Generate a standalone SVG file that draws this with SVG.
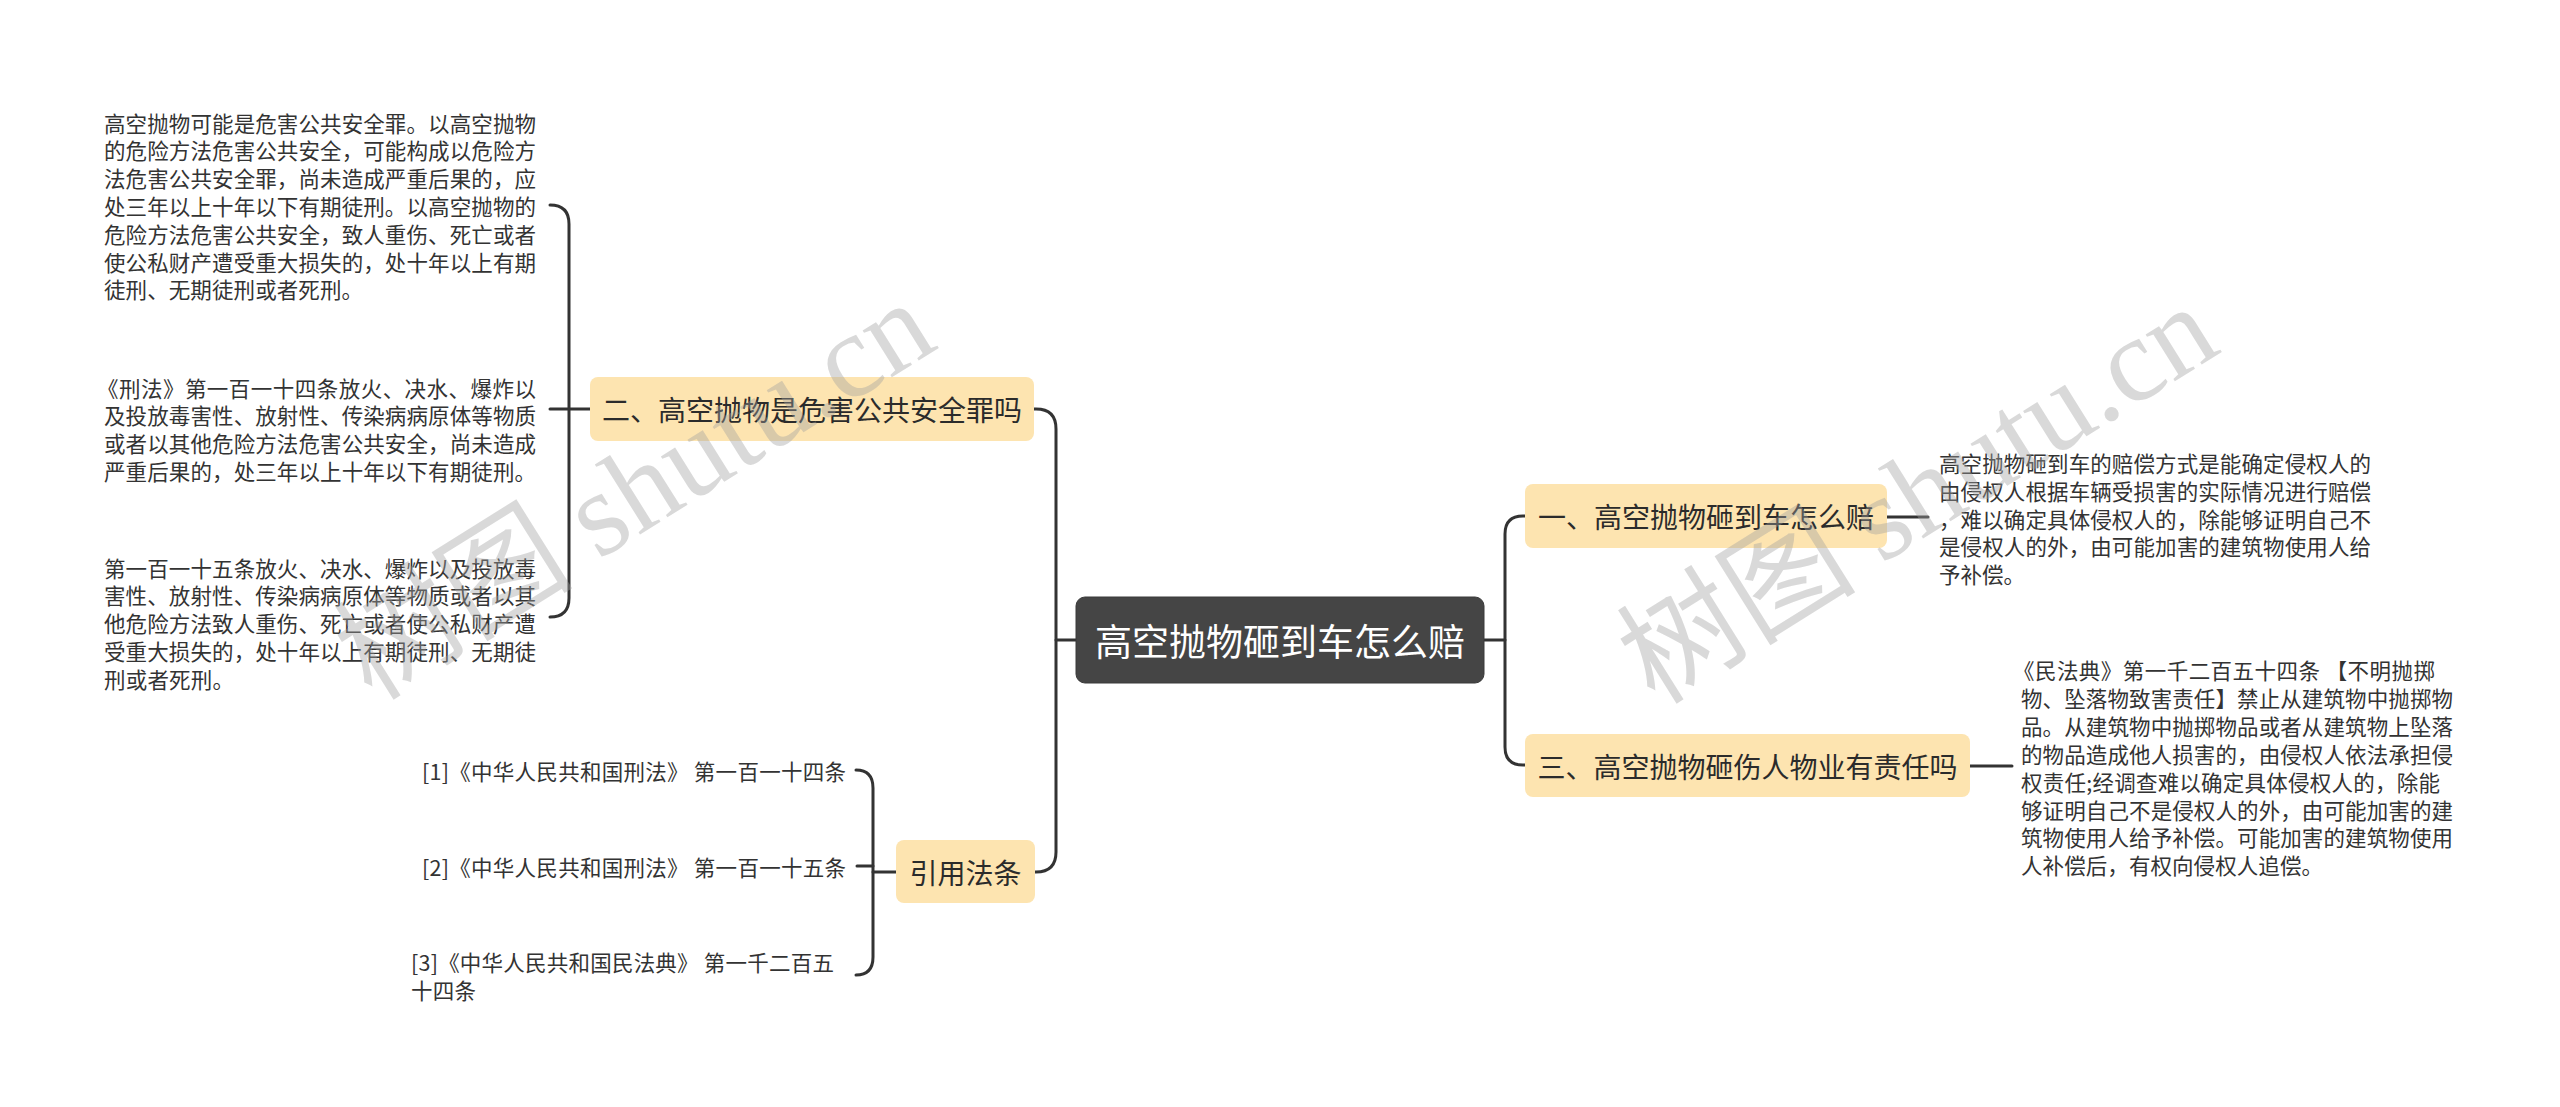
<svg xmlns="http://www.w3.org/2000/svg" width="2560" height="1107" viewBox="0 0 2560 1107">
<style>
text{font-family:"Noto Sans CJK SC","Noto Sans",sans-serif;}
.leaf{font-size:21.5px;fill:#333;dominant-baseline:central;}
.sub rect{fill:#FDE4B0;}
.sub text{font-size:28px;fill:#2b2b2b;text-anchor:middle;dominant-baseline:central;}
.conn{fill:none;stroke:#333;stroke-width:3;stroke-linecap:round;}
.wm{font-size:120px;fill:#a0a0a0;fill-opacity:0.4;}
.wm .lat{font-family:"Liberation Serif","Noto Sans CJK SC",serif;}
</style>
<rect width="2560" height="1107" fill="#fff"/>
<g id="connectors" class="conn">
<path d="M1076,640 H1056"/>
<path d="M1034,409 H1036 Q1056,409 1056,429 V852 Q1056,872 1036,872 H1035"/>
<path d="M1484,640 H1505"/>
<path d="M1525,516 H1523 Q1505,516 1505,534 V747 Q1505,765 1523,765 H1525"/>
<path d="M590,409 H550"/>
<path d="M550,205 Q569,205 569,224 V598 Q569,617 550,617"/>
<path d="M856,770 Q873,770 873,788 V957 Q873,975 856,975"/>
<path d="M857,866 H873"/>
<path d="M873,872 H896"/>
<path d="M1887,517 H1928"/>
<path d="M1970,766 H2012"/>
</g>
<g id="center">
<rect x="1076" y="597" width="408" height="86" rx="9" fill="#454545" stroke="#3a3a3a" stroke-width="1"/>
<text x="1280" y="640" font-size="37" fill="#fff" text-anchor="middle" dominant-baseline="central">高空抛物砸到车怎么赔</text>
</g>
<g id="node-er" class="sub">
<rect x="590" y="377" width="444" height="64" rx="8"/>
<text x="812" y="409">二、高空抛物是危害公共安全罪吗</text>
</g>
<g id="node-yinyong" class="sub">
<rect x="896" y="840" width="139" height="63" rx="8"/>
<text x="965.5" y="871.5">引用法条</text>
</g>
<g id="node-yi" class="sub">
<rect x="1525" y="484" width="362" height="64" rx="8"/>
<text x="1706" y="516">一、高空抛物砸到车怎么赔</text>
</g>
<g id="node-san" class="sub">
<rect x="1525" y="734" width="445" height="63" rx="8"/>
<text x="1747.5" y="765.5">三、高空抛物砸伤人物业有责任吗</text>
</g>
<g id="leaf-er-1">
<text class="leaf">
<tspan x="104" y="121.5" textLength="432">高空抛物可能是危害公共安全罪。以高空抛物</tspan>
<tspan x="104" y="149.3" textLength="432">的危险方法危害公共安全，可能构成以危险方</tspan>
<tspan x="104" y="177.1" textLength="432">法危害公共安全罪，尚未造成严重后果的，应</tspan>
<tspan x="104" y="204.9" textLength="432">处三年以上十年以下有期徒刑。以高空抛物的</tspan>
<tspan x="104" y="232.7" textLength="432">危险方法危害公共安全，致人重伤、死亡或者</tspan>
<tspan x="104" y="260.5" textLength="432">使公私财产遭受重大损失的，处十年以上有期</tspan>
<tspan x="104" y="288.3" textLength="259">徒刑、无期徒刑或者死刑。</tspan>
</text>
</g>
<g id="leaf-er-2">
<text class="leaf">
<tspan x="97" y="386.5" textLength="439">《刑法》第一百一十四条放火、决水、爆炸以</tspan>
<tspan x="104" y="414.2" textLength="432">及投放毒害性、放射性、传染病病原体等物质</tspan>
<tspan x="104" y="441.9" textLength="432">或者以其他危险方法危害公共安全，尚未造成</tspan>
<tspan x="104" y="469.6" textLength="432">严重后果的，处三年以上十年以下有期徒刑。</tspan>
</text>
</g>
<g id="leaf-er-3">
<text class="leaf">
<tspan x="104" y="566.7" textLength="432">第一百一十五条放火、决水、爆炸以及投放毒</tspan>
<tspan x="104" y="594.4" textLength="432">害性、放射性、传染病病原体等物质或者以其</tspan>
<tspan x="104" y="622.1" textLength="432">他危险方法致人重伤、死亡或者使公私财产遭</tspan>
<tspan x="104" y="649.8" textLength="432">受重大损失的，处十年以上有期徒刑、无期徒</tspan>
<tspan x="104" y="677.5" textLength="130">刑或者死刑。</tspan>
</text>
</g>
<g id="leaf-ref-1">
<text class="leaf" x="422" y="770" textLength="424">[1]《中华人民共和国刑法》 第一百一十四条</text>
</g>
<g id="leaf-ref-2">
<text class="leaf" x="422" y="866" textLength="424">[2]《中华人民共和国刑法》 第一百一十五条</text>
</g>
<g id="leaf-ref-3">
<text class="leaf">
<tspan x="411" y="961" textLength="423">[3]《中华人民共和国民法典》 第一千二百五</tspan>
<tspan x="411" y="988.5" textLength="65">十四条</tspan>
</text>
</g>
<g id="leaf-yi">
<text class="leaf">
<tspan x="1939" y="462" textLength="432">高空抛物砸到车的赔偿方式是能确定侵权人的</tspan>
<tspan x="1939" y="489.8" textLength="432">由侵权人根据车辆受损害的实际情况进行赔偿</tspan>
<tspan x="1939" y="517.6" textLength="432">，难以确定具体侵权人的，除能够证明自己不</tspan>
<tspan x="1939" y="545.4" textLength="432">是侵权人的外，由可能加害的建筑物使用人给</tspan>
<tspan x="1939" y="573.2" textLength="86">予补偿。</tspan>
</text>
</g>
<g id="leaf-san">
<text class="leaf">
<tspan x="2013" y="669" textLength="422">《民法典》第一千二百五十四条 【不明抛掷</tspan>
<tspan x="2021" y="696.9" textLength="432">物、坠落物致害责任】禁止从建筑物中抛掷物</tspan>
<tspan x="2021" y="724.8" textLength="432">品。从建筑物中抛掷物品或者从建筑物上坠落</tspan>
<tspan x="2021" y="752.7" textLength="432">的物品造成他人损害的，由侵权人依法承担侵</tspan>
<tspan x="2021" y="780.6" textLength="419">权责任;经调查难以确定具体侵权人的，除能</tspan>
<tspan x="2021" y="808.5" textLength="432">够证明自己不是侵权人的外，由可能加害的建</tspan>
<tspan x="2021" y="836.4" textLength="432">筑物使用人给予补偿。可能加害的建筑物使用</tspan>
<tspan x="2021" y="864.3" textLength="302">人补偿后，有权向侵权人追偿。</tspan>
</text>
</g>
<g id="watermarks">
<text class="wm" x="372" y="702" transform="rotate(-32 372 702)">树图 <tspan class="lat">shutu.cn</tspan></text>
<text class="wm" x="1655" y="706" transform="rotate(-32 1655 706)">树图 <tspan class="lat">shutu.cn</tspan></text>
</g>
</svg>
